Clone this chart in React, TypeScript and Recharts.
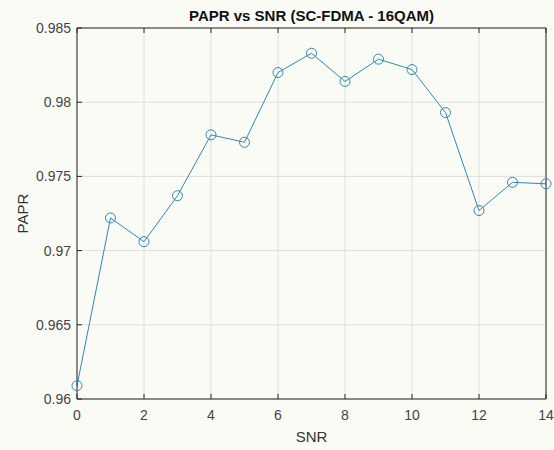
import React from 'react';
import { LineChart, Line, XAxis, YAxis, CartesianGrid } from 'recharts';

const snr = [0, 1, 2, 3, 4, 5, 6, 7, 8, 9, 10, 11, 12, 13, 14];
const papr = [
  0.9609, 0.9722, 0.9706, 0.9737, 0.9778, 0.9773, 0.982, 0.9833, 0.9814, 0.9829, 0.9822,
  0.9793, 0.9727, 0.9746, 0.9745,
];
const xTicks = [0, 2, 4, 6, 8, 10, 12, 14];
const yTicks = [0.96, 0.965, 0.97, 0.975, 0.98, 0.985];

const FONT = '"Liberation Sans", Arial, sans-serif';
const LINE = '#2f89b3';
const AXIS = '#262626';

const data = snr.map((s, i) => ({ snr: s, papr: papr[i] }));

export default function App() {
  return (
    <div style={{ position: 'absolute', left: 0, top: 0, width: 554, height: 450, background: '#fbfbf6' }}>
      <LineChart width={554} height={450} data={data} margin={{ top: 27, right: 7, left: 0, bottom: 0 }}>
        <CartesianGrid stroke="#dedede" strokeWidth={1} />
        <XAxis
          dataKey="snr"
          type="number"
          domain={[0, 14]}
          ticks={xTicks}
          height={51}
          stroke={AXIS}
          tickSize={-5}
          tickMargin={16}
          tick={{ fill: '#444', fontSize: 14, fontFamily: FONT }}
          label={(p: any) => (
            <text
              x={p.viewBox.x + p.viewBox.width / 2}
              y={p.viewBox.y + 43}
              textAnchor="middle"
              fill="#333"
              fontSize={15}
              fontFamily={FONT}
            >
              SNR
            </text>
          )}
        />
        <XAxis
          xAxisId="top"
          orientation="top"
          dataKey="snr"
          type="number"
          domain={[0, 14]}
          ticks={xTicks}
          height={1}
          stroke={AXIS}
          tickSize={-5}
          tickFormatter={() => ''}
          label={(p: any) => (
            <text
              x={p.viewBox.x + p.viewBox.width / 2}
              y={p.viewBox.y + p.viewBox.height - 7}
              textAnchor="middle"
              fill="#111"
              fontSize={15}
              fontWeight="bold"
              fontFamily={FONT}
            >
              PAPR vs SNR (SC-FDMA - 16QAM)
            </text>
          )}
        />
        <YAxis
          type="number"
          domain={[0.96, 0.985]}
          ticks={yTicks}
          width={77}
          stroke={AXIS}
          tickSize={-5}
          tickMargin={11}
          tick={{ fill: '#444', fontSize: 14, fontFamily: FONT }}
          label={(p: any) => {
            const cx = p.viewBox.x + 22;
            const cy = p.viewBox.y + p.viewBox.height / 2;
            return (
              <text
                x={cx}
                y={cy}
                transform={`rotate(-90 ${cx} ${cy})`}
                textAnchor="middle"
                dominantBaseline="central"
                fill="#333"
                fontSize={15}
                fontFamily={FONT}
              >
                PAPR
              </text>
            );
          }}
        />
        <YAxis
          yAxisId="right"
          orientation="right"
          type="number"
          domain={[0.96, 0.985]}
          ticks={yTicks}
          width={1}
          stroke={AXIS}
          tickSize={-5}
          tickFormatter={() => ''}
        />
        <Line
          type="linear"
          dataKey="papr"
          stroke={LINE}
          strokeWidth={1}
          dot={{ r: 5, fill: 'none', stroke: LINE, strokeWidth: 1 }}
          activeDot={false}
          isAnimationActive={false}
        />
      </LineChart>
    </div>
  );
}
